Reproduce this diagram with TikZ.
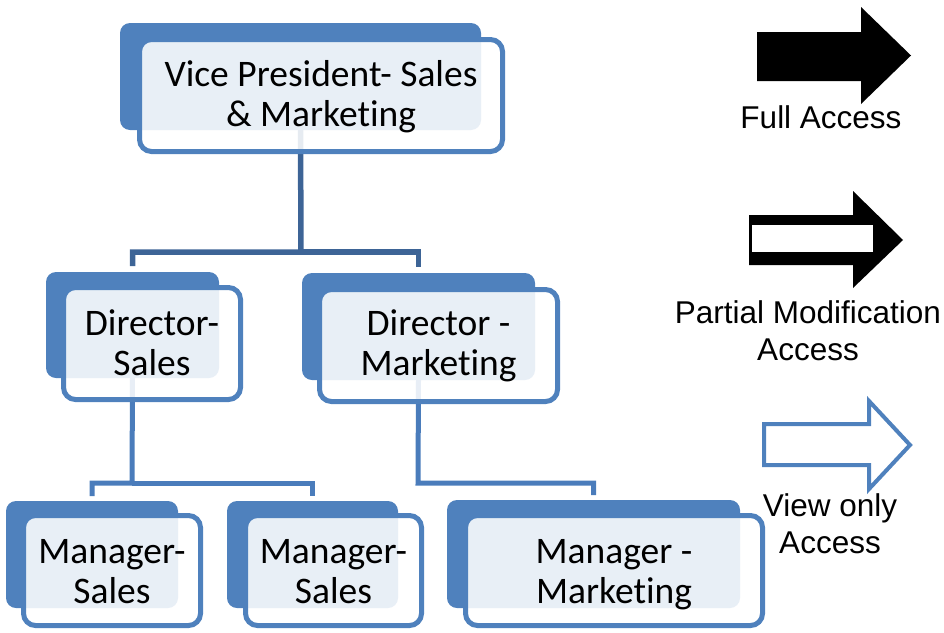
\documentclass[tikz,border=0pt]{standalone}
\usepackage{fontspec}
\setmainfont{Carlito}[Ligatures={NoCommon,NoContextual},Contextuals=NoAlternate]
\newfontfamily\arialf{Liberation Sans}
\usetikzlibrary{calc,backgrounds}
\definecolor{boxblue}{RGB}{79,129,189}
\definecolor{topconn}{RGB}{61,100,150}
\definecolor{lowconn}{RGB}{74,124,187}
\begin{document}
\begin{tikzpicture}[x=1pt,y=-1pt,
  backbox/.style={fill=boxblue, rounded corners=10pt, inner sep=0pt, outer sep=0pt},
  frontbox/.style={draw=boxblue, line width=5pt, fill=white, fill opacity=0.875, draw opacity=1, rounded corners=12pt, inner sep=0pt, outer sep=0pt},
  boxtext/.style={anchor=north, inner sep=0pt, align=center, font=\fontsize{37.5}{40}\selectfont},
  conntop/.style={draw=topconn, line width=5.5pt},
  connlow/.style={draw=lowconn, line width=5pt},
  legendtext/.style={anchor=north, inner sep=0pt, align=center, font=\arialf\fontsize{31.5}{37}\selectfont}]
\useasboundingbox (0,0) rectangle (944,632);

% back boxes
\node[backbox, minimum width=361pt, minimum height=107pt] (vpb) at (300.5,76.5) {};
\node[backbox, minimum width=173pt, minimum height=106pt] (dsb) at (132.5,325) {};
\node[backbox, minimum width=233pt, minimum height=107pt] (dmb) at (418.5,326.5) {};
\node[backbox, minimum width=172pt, minimum height=107pt] (msa) at (92,554.5) {};
\node[backbox, minimum width=171pt, minimum height=107pt] (msb) at (312.5,554.5) {};
\node[backbox, minimum width=293pt, minimum height=108pt] (mmb) at (593.5,554) {};

% front boxes
\node[frontbox, minimum width=363pt, minimum height=112pt] (vpf) at (321,95.5) {};
\node[frontbox, minimum width=177pt, minimum height=112pt] (dsf) at (152,343.5) {};
\node[frontbox, minimum width=238pt, minimum height=112pt] (dmf) at (438.5,345.5) {};
\node[frontbox, minimum width=177pt, minimum height=110pt] (msaf) at (112,570.5) {};
\node[frontbox, minimum width=176pt, minimum height=110pt] (msbf) at (333.5,570.5) {};
\node[frontbox, minimum width=297pt, minimum height=110pt] (mmf) at (614,570.5) {};

% texts
\node[boxtext] (vpt) at (321,56) {\rule{0pt}{30pt}Vice President- Sales\\ \& Marketing};
\node[boxtext] (dst) at (152,305) {\rule{0pt}{30pt}Director-\\ Sales};
\node[boxtext] (dmt) at (438.5,305) {\rule{0pt}{30pt}Director -\\ Marketing};
\node[boxtext] (msat) at (112,533) {\rule{0pt}{30pt}Manager-\\ Sales};
\node[boxtext] (msbt) at (333.5,533) {\rule{0pt}{30pt}Manager-\\ Sales};
\node[boxtext] (mmt) at (614,533) {\rule{0pt}{30pt}Manager -\\ Marketing};

% connectors
\coordinate (j1) at (301,252);
\coordinate (j2) at (132,483);
\coordinate (j3) at (418,483);
\begin{scope}[on background layer]
\draw[conntop] (vpb.south) -- (j1) -| ($(dsb.north)+(0,-6)$);
\draw[conntop] (j1) -| ($(dmb.north)+(0,-6)$);
\draw[connlow] (dsb.south) -- (j2) -| ($(msa.north)+(0,-5)$);
\draw[connlow] (j2) -| ($(msb.north)+(0,-5)$);
\draw[connlow] (dmb.south) -- (j3) -| ($(mmb.north)+(0,-5)$);
\end{scope}

% legend arrows
\fill[black] (757,32) -- (861,32) -- (861,7) -- (911,55.5) -- (861,104) -- (861,81) -- (757,81) -- cycle;
\fill[black] (749,215) -- (853,215) -- (853,191) -- (903,240) -- (853,288) -- (853,265) -- (749,265) -- cycle;
\fill[white] (752,225) rectangle (873,252);
\draw[boxblue, line width=4pt, line join=miter] (764,424) -- (869,424) -- (869,401) -- (910,445) -- (869,489) -- (869,465) -- (764,465) -- cycle;

\node[legendtext] (lfull) at (821,103) {\rule{0pt}{25pt}Full Access};
\node[legendtext] (lpart) at (808,298) {\rule{0pt}{25pt}Partial Modification\\ Access};
\node[legendtext] (lview) at (830,491) {\rule{0pt}{25pt}View only\\ Access};
\end{tikzpicture}
\end{document}
